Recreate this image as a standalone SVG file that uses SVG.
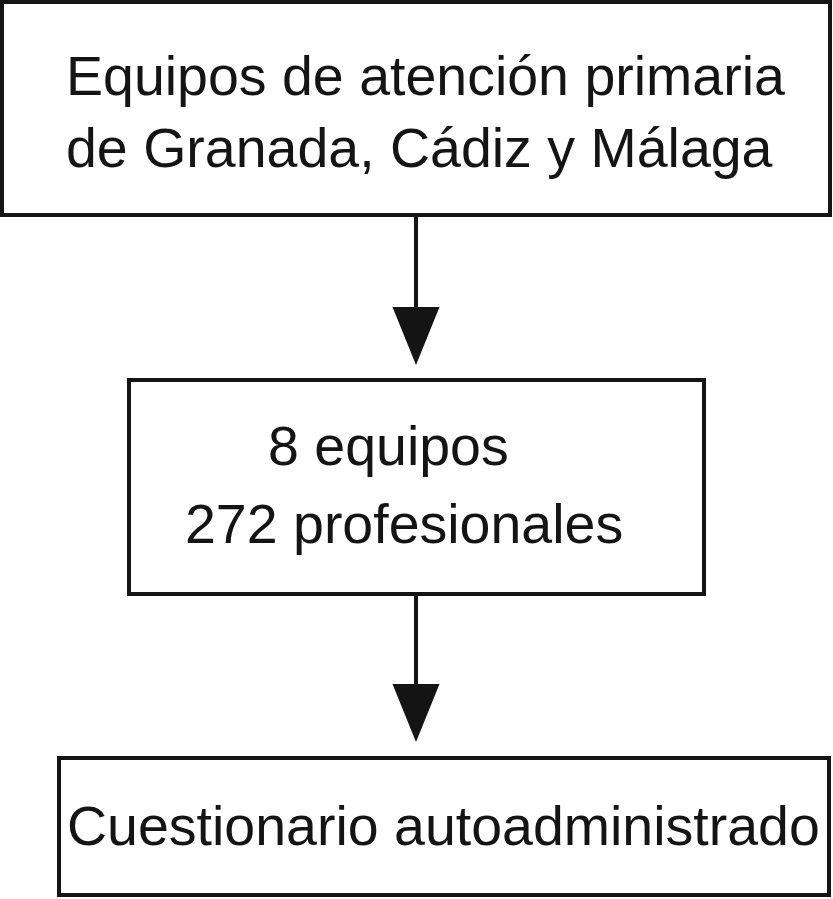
<svg xmlns="http://www.w3.org/2000/svg" width="833" height="899" viewBox="0 0 833 899">
  <style>
    .box { fill: #ffffff; stroke: #141414; stroke-width: 4; }
    .lbl { font-family: "Liberation Sans", Arial, sans-serif; font-size: 55.5px; fill: #141414; }
    .conn { stroke: #141414; stroke-width: 4; fill: none; }
  </style>
  <defs>
    <marker id="ah" markerUnits="userSpaceOnUse" markerWidth="60" markerHeight="48" refX="1" refY="23.5" orient="auto">
      <path d="M0,0 L58,23.5 L0,47 Z" fill="#141414"/>
    </marker>
  </defs>
  <rect width="833" height="899" fill="#ffffff"/>
  <g id="connectors">
    <line class="conn" x1="416" y1="215" x2="416" y2="308" marker-end="url(#ah)"/>
    <line class="conn" x1="416" y1="594" x2="416" y2="685" marker-end="url(#ah)"/>
  </g>
  <g id="node-equipos">
    <rect class="box" x="2" y="2" width="828" height="213"/>
    <text class="lbl" x="66" y="95">Equipos de atención primaria</text>
    <text class="lbl" x="66" y="167">de Granada, Cádiz y Málaga</text>
  </g>
  <g id="node-muestra">
    <rect class="box" x="129" y="380" width="575" height="214"/>
    <text class="lbl" x="268" y="465">8 equipos</text>
    <text class="lbl" x="185" y="543">272 profesionales</text>
  </g>
  <g id="node-cuestionario">
    <rect class="box" x="59" y="758" width="770" height="137"/>
    <text class="lbl" x="67" y="845">Cuestionario autoadministrado</text>
  </g>
</svg>
